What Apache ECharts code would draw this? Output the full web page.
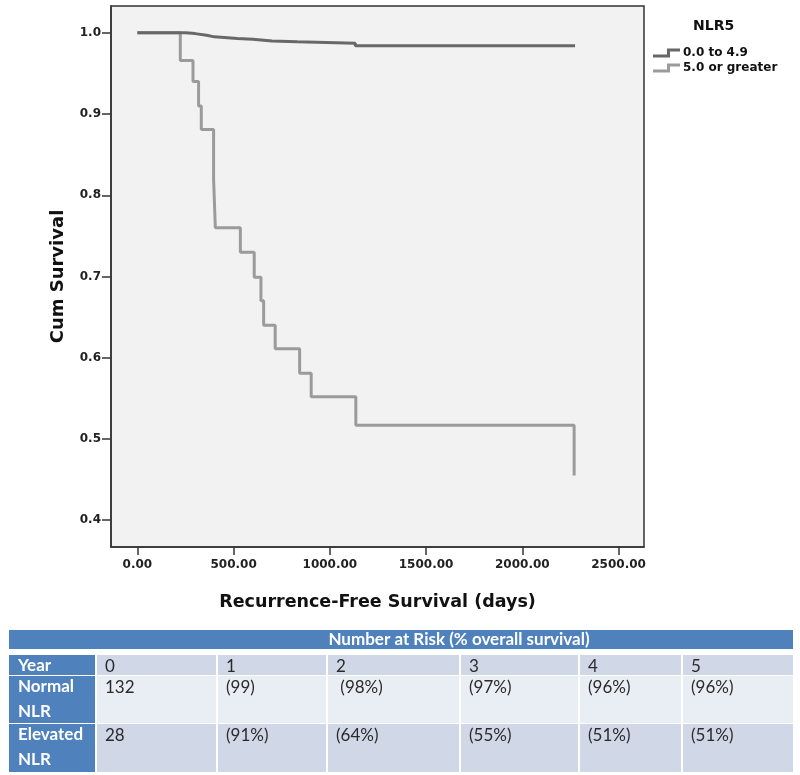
<!DOCTYPE html>
<html>
<head>
<meta charset="utf-8">
<script src="https://cdn.jsdelivr.net/npm/echarts@6/dist/echarts.min.js"></script>
<style>
html,body{margin:0;padding:0;background:#fff;}
#chart{width:800px;height:775px;}
</style>
</head>
<body>
<div id="chart"></div>
<script>
// ---- Data ----
const seriesNames = ['0.0 to 4.9', '5.0 or greater'];
const normalCurve = [[0,1.0],[250,0.999],[300,0.997],[360,0.995],[400,0.993],[520,0.992],[600,0.990],[700,0.989],[830,0.987],[1132,0.984],[2274,0.984]];
const elevatedCurve = [[0,1.0],[223,0.966],[289,0.94],[318,0.91],[332,0.881],[396,0.82],[405,0.76],[535,0.73],[607,0.699],[642,0.67],[656,0.64],[716,0.611],[843,0.581],[903,0.552],[1135,0.517],[2269,0.455]];
const xTicks = [0, 500, 1000, 1500, 2000, 2500];
const yTicks = [0.4, 0.5, 0.6, 0.7, 0.8, 0.9, 1.0];
const tableTitle = 'Number at Risk (% overall survival)';
const rowHeads = [['Year'], ['Normal', 'NLR'], ['Elevated', 'NLR']];
const yearRow = ['0', '1', '2', '3', '4', '5'];
const normalRow = ['132', '(99)', ' (98%)', '(97%)', '(96%)', '(96%)'];
const elevatedRow = ['28', '(91%)', '(64%)', '(55%)', '(51%)', '(51%)'];

// ---- Table layout ----
const colX = [9, 97, 218, 328, 461, 580, 683];
const colR = [95, 216, 326, 459, 578, 681, 793];
const rowY = [655, 676, 724];
const rowB = [675, 723, 772];
const rowFill = ['#d0d8e8', '#e9edf4', '#d0d8e8'];
const headBlue = '#4f81bd';
const tableFont = 'Lato, "Open Sans", sans-serif';

const graphics = [];
graphics.push({type:'rect', shape:{x:9, y:630, width:784, height:19}, style:{fill:headBlue}});
graphics.push({type:'text', x:459, y:640, style:{text:tableTitle, fill:'#fff', font:'bold 17px ' + tableFont, textAlign:'center', textVerticalAlign:'middle'}});
const rows = [yearRow, normalRow, elevatedRow];
rows.forEach((row, r) => {
  graphics.push({type:'rect', shape:{x:colX[0], y:rowY[r], width:colR[0]-colX[0], height:rowB[r]-rowY[r]}, style:{fill:headBlue}});
  rowHeads[r].forEach((t, k) => {
    graphics.push({type:'text', x:18, y:rowY[r] + 11 + k*25, style:{text:t, fill:'#fff', font:'bold 17px ' + tableFont, textVerticalAlign:'middle'}});
  });
  row.forEach((v, c) => {
    const ci = c + 1;
    graphics.push({type:'rect', shape:{x:colX[ci], y:rowY[r], width:colR[ci]-colX[ci], height:rowB[r]-rowY[r]}, style:{fill:rowFill[r]}});
    graphics.push({type:'text', x:colX[ci] + 8, y:rowY[r] + 12, style:{text:v, fill:'#2a2a2a', font:'17px ' + tableFont, textVerticalAlign:'middle'}});
  });
});

const axisFont = '"DejaVu Sans", Verdana, sans-serif';
const chart = echarts.init(document.getElementById('chart'), null, {renderer:'canvas'});
chart.setOption({
  backgroundColor:'#ffffff',
  animation:false,
  title:{text:'NLR5', left:688, top:14, textStyle:{fontFamily:axisFont, fontWeight:'bold', fontSize:14, color:'#111'}},
  legend:{
    orient:'vertical', left:648, top:42, itemWidth:27, itemHeight:9, itemGap:3,
    icon:'path://M0,6 L14,6 L14,0 L27,0 L27,3 L17,3 L17,9 L0,9 Z',
    textStyle:{fontFamily:axisFont, fontWeight:'bold', fontSize:12, color:'#111', padding:[0,0,0,-2]},
    data:seriesNames
  },
  grid:{left:111, top:6, right:156, bottom:228, show:true, backgroundColor:'#f2f2f2', borderColor:'#333', borderWidth:1.5},
  xAxis:{
    type:'value', min:-137, max:2632,
    name:'Recurrence-Free Survival (days)', nameLocation:'middle', nameGap:46,
    nameTextStyle:{fontFamily:axisFont, fontWeight:'bold', fontSize:17.5, color:'#111'},
    axisLine:{show:true, onZero:false, lineStyle:{color:'#333', width:1.5}},
    axisTick:{show:true, customValues:xTicks, length:8, lineStyle:{color:'#333', width:1.5}},
    axisLabel:{customValues:xTicks, formatter:v=>v.toFixed(2), fontFamily:axisFont, fontWeight:'bold', fontSize:12, color:'#222', margin:12},
    splitLine:{show:false}
  },
  yAxis:{
    type:'value', min:0.367, max:1.033,
    name:'Cum Survival', nameLocation:'middle', nameGap:44, nameRotate:90,
    nameTextStyle:{fontFamily:axisFont, fontWeight:'bold', fontSize:18, color:'#111'},
    axisLine:{show:true, onZero:false, lineStyle:{color:'#333', width:1.5}},
    axisTick:{show:true, customValues:yTicks, length:9, lineStyle:{color:'#333', width:1.5}},
    axisLabel:{customValues:yTicks, formatter:v=>v.toFixed(1), fontFamily:axisFont, fontWeight:'bold', fontSize:12, color:'#222', margin:10},
    splitLine:{show:false}
  },
  series:[
    {name:seriesNames[0], type:'line', step:'end', data:normalCurve, showSymbol:false, color:'#686868', lineStyle:{width:3, color:'#686868'}, z:3},
    {name:seriesNames[1], type:'line', step:'end', data:elevatedCurve, showSymbol:false, color:'#9b9b9b', lineStyle:{width:3, color:'#9b9b9b'}, z:2}
  ],
  graphic:graphics
});
</script>
</body>
</html>
